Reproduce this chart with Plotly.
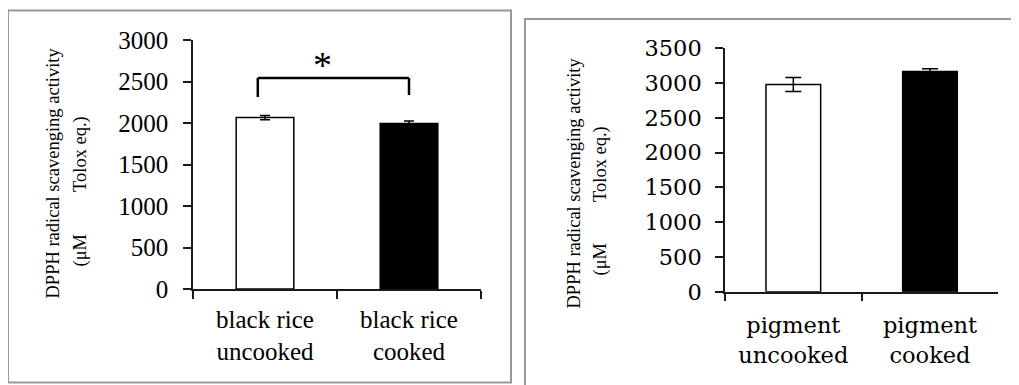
import plotly.graph_objects as go

W, H = 1019, 385
OFF = 8  # page body margin applied by the browser

# ---- data ----
left_categories = ["black rice<br>uncooked", "black rice<br>cooked"]
left_values = [2065, 1995]
left_errors = [25, 30]

right_categories = ["pigment<br>uncooked", "pigment<br>cooked"]
right_values = [2980, 3165]
right_errors = [100, 40]

left_yticks = [0, 500, 1000, 1500, 2000, 2500, 3000]
right_yticks = [0, 500, 1000, 1500, 2000, 2500, 3000, 3500]

ytitle_line1 = "DPPH radical scavenging activity"
ytitle_unit_a = "(μM"
ytitle_unit_b = "Tolox eq.)"

# significance bracket (left panel): heights in data units
bracket_top = 2542
bracket_left_bottom = 2313
bracket_right_bottom = 2337
star_y = 2700


def px(x):
    return (x - OFF) / W


def py(y):
    return 1 - (y - OFF) / H


bar_colors = ["white", "black"]

fig = go.Figure()

for i, (c, v, e) in enumerate(zip(left_categories, left_values, left_errors)):
    fig.add_trace(go.Bar(
        x=[c], y=[v], xaxis="x", yaxis="y",
        marker=dict(color=bar_colors[i], line=dict(color="black", width=1.5)),
        width=0.4,
        error_y=dict(type="data", array=[e], color="black", thickness=1.5, width=5),
        showlegend=False,
    ))

for i, (c, v, e) in enumerate(zip(right_categories, right_values, right_errors)):
    fig.add_trace(go.Bar(
        x=[c], y=[v], xaxis="x2", yaxis="y2",
        marker=dict(color=bar_colors[i], line=dict(color="black", width=1.5)),
        width=0.4,
        error_y=dict(type="data", array=[e], color="black", thickness=1.5, width=8),
        showlegend=False,
    ))

left_font = dict(family="Liberation Serif", size=25, color="black")
right_font = dict(family="DejaVu Serif", size=22.5, color="black")
axis_common = dict(showline=True, linecolor="#1a1a1a", linewidth=1.5,
                   ticks="outside", ticklen=8, tickwidth=1.5, tickcolor="#1a1a1a",
                   showgrid=False, zeroline=False, fixedrange=True,
                   automargin=False)

fig.update_layout(
    template=None,
    width=W, height=H, autosize=False,
    margin=dict(l=0, r=0, t=0, b=0, pad=0, autoexpand=False),
    paper_bgcolor="white", plot_bgcolor="white",
    showlegend=False,
    bargap=0.6, barmode="overlay",
    xaxis=dict(domain=[px(193), px(481)], anchor="y", type="category",
               categoryorder="array", categoryarray=left_categories,
               tickson="boundaries", tickfont=left_font, ticklabelstandoff=7,
               range=[-0.5, 1.5], **axis_common),
    yaxis=dict(domain=[py(289), py(40)], anchor="x", range=[0, 3000],
               tickvals=left_yticks, tickfont=left_font, ticklabelstandoff=10,
               **axis_common),
    xaxis2=dict(domain=[px(725), px(998.3)], anchor="y2", type="category",
                categoryorder="array", categoryarray=right_categories,
                tickson="boundaries", tickfont=right_font, ticklabelstandoff=13,
                range=[-0.5, 1.5], **axis_common),
    yaxis2=dict(domain=[py(291.7), py(48.3)], anchor="x2", range=[0, 3500],
                tickvals=right_yticks, tickfont=right_font, ticklabelstandoff=9,
                **axis_common),
)

# panel borders
border = dict(color="#999999", width=2)
fig.add_shape(type="rect", xref="paper", yref="paper",
              x0=px(8), x1=px(511), y0=py(382.5), y1=py(10.5), line=border)
fig.add_shape(type="rect", xref="paper", yref="paper",
              x0=px(525), x1=px(1040), y0=py(420), y1=py(19), line=border)

# significance bracket
bl = dict(color="black", width=2.5)
fig.add_shape(type="line", xref="x", yref="y", x0=-0.05, x1=-0.05,
              y0=bracket_left_bottom, y1=bracket_top, line=bl)
fig.add_shape(type="line", xref="x", yref="y", x0=-0.05, x1=1.0,
              y0=bracket_top, y1=bracket_top, line=bl)
fig.add_shape(type="line", xref="x", yref="y", x0=1.0, x1=1.0,
              y0=bracket_right_bottom, y1=bracket_top, line=bl)
fig.add_annotation(xref="x", yref="y", x=0.4, y=star_y, text="*",
                   showarrow=False, font=dict(family="Liberation Serif", size=38, color="black"),
                   xanchor="center", yanchor="middle")

# y titles
tfont = dict(family="Liberation Serif", size=18.5, color="black")
for (x, y, t) in [(52, 173.5, ytitle_line1), (573, 183.5, ytitle_line1)]:
    fig.add_annotation(xref="paper", yref="paper", x=px(x), y=py(y), text=t,
                       textangle=-90, showarrow=False, font=tfont,
                       xanchor="center", yanchor="middle")
# unit line: "(μM" starts at the lower end, "Tolox eq.)" ends at the upper end
for (x, y_lo, y_hi) in [(80, 269, 114), (600, 278, 124)]:
    fig.add_annotation(xref="paper", yref="paper", x=px(x), y=py(y_lo),
                       text=ytitle_unit_a, textangle=-90, showarrow=False,
                       font=tfont, xanchor="center", yanchor="bottom")
    fig.add_annotation(xref="paper", yref="paper", x=px(x), y=py(y_hi),
                       text=ytitle_unit_b, textangle=-90, showarrow=False,
                       font=tfont, xanchor="center", yanchor="top")

fig.write_html("out.html")
